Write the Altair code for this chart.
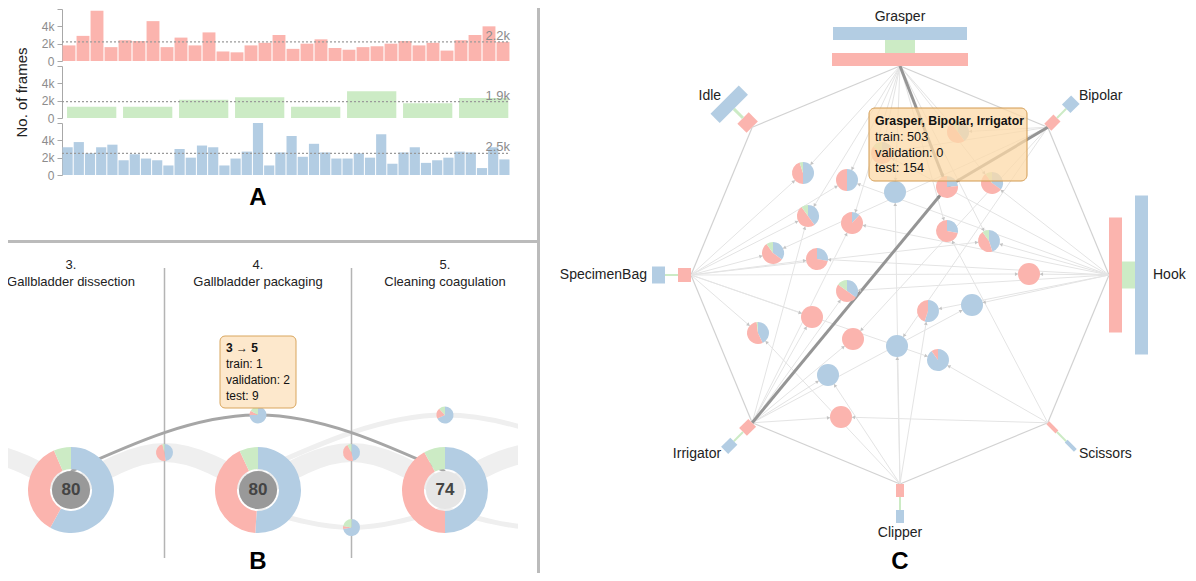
import numpy as np
import pandas as pd
import altair as alt

FONT = "Liberation Sans"
TEXT = "#222222"
RED, GREEN, BLUE = "#fbb4ae", "#ccebc5", "#b3cde3"
SPLITS = ["test", "train", "validation"]
COLOR = alt.Scale(domain=SPLITS, range=[BLUE, RED, GREEN])
OFF = 8  # page margin: chart pixel = screen pixel - OFF


def rng(a, b):
    return [a - OFF, b - OFF]


def lin(domain, a, b):
    return alt.Scale(domain=domain, range=rng(a, b), nice=False, zero=False)


# ---------------- Panel A data: frames per video ----------------
train_frames = [1800, 2900, 5800, 1600, 2400, 2300, 4600, 1600, 2700, 1800, 3300, 1100,
                1000, 1800, 2100, 3000, 1400, 2000, 2500, 1500, 1300, 1600, 1700, 2000,
                2300, 1800, 2100, 1200, 2400, 3000, 4000, 2200]
validation_frames = [1300, 1300, 2100, 2400, 1300, 3100, 1700, 2300]
test_frames = [3200, 3800, 2500, 3200, 3500, 1700, 2400, 1900, 1700, 1100, 3000, 2000,
               3400, 3200, 1100, 1900, 2700, 6000, 1100, 2600, 4500, 2100, 3600, 2600,
               1900, 1900, 2500, 2000, 4700, 1300, 2600, 3200, 1400, 1700, 2000, 2700,
               2600, 800, 3200, 1800]
mean_frames = [2200, 1900, 2500]
mean_labels = ["2.2k", "1.9k", "2.5k"]

# ---------------- Panel B data: phases and transitions ----------------
phase_ids = [3, 4, 5]
phase_names = ["Gallbladder dissection", "Gallbladder packaging", "Cleaning coagulation"]
phase_videos = [80, 80, 74]
phase_train = [35.5, 42, 42]
phase_validation = [6.5, 7, 8]
phase_test = [58, 51, 50]

trans_from = [3, 4, 3, 4, 5]
trans_to = [4, 5, 5, 6, 4]
trans_train = [48, 45, 1, 20, 6]
trans_validation = [4, 8, 2, 12, 22]
trans_test = [48, 47, 9, 68, 72]
B_HIGHLIGHT = 2

link_from = [2, 3, 4, 5, 4, 5, 6, 3]
link_to = [3, 4, 5, 6, 6, 4, 5, 5]

# ---------------- Panel C data: tools and tool combinations ----------------
tool_names = ["Grasper", "Bipolar", "Hook", "Scissors", "Clipper", "Irrigator", "SpecimenBag", "Idle"]
tool_train = [136, 10, 115, 4, 8, 11, 14, 16]
tool_validation = [30, 2, 27, 2, 2, 2, 2, 3]
tool_test = [134, 12, 159, 4, 8, 10, 17, 40]

node_x = [58, -18, -97, -53, -5, 47, 92, -92, -48, 47, 89, -127, -83, -53, -88, -142,
          -47, -3, -72, 28, 72, 129, 38, -59]
node_y = [143, 122, 102, 95, 83, 88, 92, 59, 52, 44, 34, 22, 16, -16, -42, -58, -64,
          -71, -100, -36, -30, 1, -85, -142]
node_tools = ["Grasper,Bipolar", "Grasper,Bipolar,Hook", "Grasper,SpecimenBag",
              "Grasper,SpecimenBag,Hook", "Grasper,Clipper", "Grasper,Bipolar,Irrigator",
              "Grasper,Hook", "Grasper,SpecimenBag,Irrigator", "Grasper,Irrigator,Hook",
              "Grasper,Scissors", "Grasper,Hook,SpecimenBag", "SpecimenBag,Bipolar",
              "SpecimenBag,Hook", "Irrigator,Hook", "SpecimenBag,Irrigator",
              "SpecimenBag,Clipper", "Irrigator,Bipolar", "Clipper,Bipolar",
              "Irrigator,Clipper", "Hook,Clipper", "Hook,Irrigator", "Hook,SpecimenBag",
              "Scissors,SpecimenBag", "Irrigator,Scissors"]
node_train = [50, 70, 45, 50, 0, 503, 55, 50, 88, 72, 45, 55, 72, 50, 100, 55, 100, 0, 0,
              45, 0, 100, 10, 100]
node_validation = [10, 15, 5, 0, 0, 0, 10, 10, 0, 0, 10, 10, 0, 15, 0, 2, 0, 0, 0, 0, 0,
                   0, 0, 0]
node_test = [40, 15, 50, 50, 100, 154, 35, 40, 12, 28, 45, 35, 28, 35, 0, 43, 0, 100, 100,
             55, 100, 0, 90, 0]
C_HIGHLIGHT = 5


def pie_rows(keys, tests, trains, vals):
    rows = []
    for i, key in enumerate(keys):
        total = tests[i] + trains[i] + vals[i]
        start = 0.0
        for split, v in zip(SPLITS, (tests[i], trains[i], vals[i])):
            if v <= 0:
                continue
            end = start + v
            row = dict(key)
            row.update(split=split, t0=2 * np.pi * start / total, t1=2 * np.pi * end / total)
            rows.append(row)
            start = end
    return pd.DataFrame(rows)


layers = []

# ================= Panel A =================
A_X = (62, 510)
A_ROWS = [(61, 9), (118, 66), (175, 123)]
row_defs = [
    (train_frames, RED, 0.04, 0.04, None),
    (validation_frames, GREEN, 0.09, 0.03, "No. of frames"),
    (test_frames, BLUE, 0.045, 0.045, None),
]
for r, (vals, col, gl, gr, title) in enumerate(row_defs):
    n = len(vals)
    xs = lin([0, n], *A_X)
    ys = lin([0, 6000], *A_ROWS[r])
    df = pd.DataFrame({"video": np.arange(n), "frames": vals})
    df["x0"] = df["video"] + gl
    df["x1"] = df["video"] + 1 - gr
    axis_kw = dict(orient="left", offset=-(A_X[0] - OFF), values=[0, 2000, 4000, 6000],
                   labelExpr="datum.value >= 6000 ? '' : (datum.value == 0 ? '0' : (datum.value / 1000) + 'k')",
                   domainColor="#a8a8a8", tickColor="#a8a8a8", labelColor="#8c8c8c",
                   labelFont=FONT, labelFontSize=12, tickSize=5, labelPadding=3, grid=False)
    if title:
        axis_kw.update(title=title, titleFont=FONT, titleFontSize=15, titleFontWeight="normal",
                       titleColor=TEXT, titlePadding=12)
    else:
        axis_kw.update(title=None)
    layers.append(alt.Chart(df).mark_rect(color=col).encode(
        x=alt.X("x0:Q", scale=xs, axis=None), x2="x1",
        y=alt.Y("frames:Q", scale=ys, axis=alt.Axis(**axis_kw)), y2=alt.datum(0)))
    mdf = pd.DataFrame({"mean": [mean_frames[r]], "label": [mean_labels[r]], "s": [0], "e": [n]})
    layers.append(alt.Chart(mdf).mark_rule(color="#9a9a9a", strokeDash=[2, 2], strokeWidth=1.3).encode(
        x=alt.X("s:Q", scale=xs, axis=None), x2="e", y=alt.Y("mean:Q", scale=ys, axis=None)))
    layers.append(alt.Chart(mdf).mark_text(align="right", baseline="bottom", dy=1, font=FONT,
                                           fontSize=13, color="#8c8c8c").encode(
        x=alt.X("e:Q", scale=xs, axis=None), y=alt.Y("mean:Q", scale=ys, axis=None), text="label:N"))

# ================= Panel B =================
BX = lin([3, 5], 71, 445)
BY = lin([0, 2], 490, 415)


def bx(f="phase"):
    return alt.X(f"{f}:Q", scale=BX, axis=None)


def by(f="lane"):
    return alt.Y(f"{f}:Q", scale=BY, axis=None)


def link_shape(a, b):
    span = b - a
    if span == 1:
        return 0.0, 1.0, "band"
    if span == 2:
        return 0.5, 2.0, "arc"
    return -0.5, -1.0, "arc"


link_rows = []
for i, (a, b) in enumerate(zip(link_from, link_to)):
    end_lane, peak, kind = link_shape(a, b)
    if (a, b) == (trans_from[B_HIGHLIGHT], trans_to[B_HIGHLIGHT]):
        kind = "highlight"
    for k, (ph, ln) in enumerate(((a, end_lane), ((a + b) / 2, peak), (b, end_lane))):
        link_rows.append(dict(link=i, k=k, phase=ph, lane=ln, kind=kind))
links = pd.DataFrame(link_rows)

band = alt.Chart(links).transform_filter(alt.datum.kind == "band").mark_line(
    color="#efefef", strokeWidth=19, interpolate="natural", strokeCap="butt").encode(
    x=bx(), y=by(), detail="link:N", order="k:Q")
thin = alt.Chart(links).transform_filter(alt.datum.kind == "arc").mark_line(
    color="#efefef", strokeWidth=5, interpolate="natural").encode(
    x=bx(), y=by(), detail="link:N", order="k:Q")
layers += [band, thin]

# white clip of links leaving panel B
layers.append(alt.Chart(pd.DataFrame({"a": [0]})).mark_rect(color="white").encode(
    x=alt.value(518 - OFF), x2=alt.value(650 - OFF), y=alt.value(390 - OFF), y2=alt.value(578 - OFF)))

# phase separators
sep = pd.DataFrame({"phase": [3.5, 4.5], "top": [(490 - 268) / 37.5] * 2, "bot": [(490 - 558) / 37.5] * 2})
layers.append(alt.Chart(sep).mark_rule(color="#b4b4b4", strokeWidth=1.5).encode(
    x=bx(), y=by("top"), y2="bot"))

hl = alt.Chart(links).transform_filter(alt.datum.kind == "highlight").mark_line(
    color="#a6a6a6", strokeWidth=3, interpolate="natural").encode(
    x=bx(), y=by(), detail="link:N", order="k:Q")
layers.append(hl)

# donuts
donut = pie_rows([dict(phase=p, lane=0) for p in phase_ids], phase_test, phase_train, phase_validation)
layers.append(alt.Chart(donut).mark_arc(radius=43, radius2=21).encode(
    x=bx(), y=by(), theta=alt.Theta("t0:Q", scale=None, stack=None), theta2="t1",
    color=alt.Color("split:N", scale=COLOR, legend=None)))
centers = pd.DataFrame({"phase": phase_ids, "lane": [0] * 3, "videos": phase_videos})
layers.append(alt.Chart(centers).mark_circle(size=1452, opacity=1).encode(
    x=bx(), y=by(),
    color=alt.condition(alt.datum.videos >= 80, alt.value("#999999"), alt.value("#e6e6e6"))))
layers.append(alt.Chart(centers).mark_text(font=FONT, fontSize=17, fontWeight="bold", color="#444444").encode(
    x=bx(), y=by(), text="videos:N"))

# transition pies
tpos = []
for a, b in zip(trans_from, trans_to):
    _, peak, _ = link_shape(a, b)
    tpos.append(dict(phase=(a + b) / 2, lane=peak))
tpie = pie_rows(tpos, trans_test, trans_train, trans_validation)
layers.append(alt.Chart(tpie).mark_arc(radius=8.5).encode(
    x=bx(), y=by(), theta=alt.Theta("t0:Q", scale=None, stack=None), theta2="t1",
    color=alt.Color("split:N", scale=COLOR, legend=None)))

# phase titles
titles = pd.DataFrame({"phase": phase_ids,
                       "lane": [(490 - 259) / 37.5] * 3,
                       "label": [f"{p}.\n{n}" for p, n in zip(phase_ids, phase_names)]})
layers.append(alt.Chart(titles).mark_text(font=FONT, fontSize=13, color=TEXT, lineBreak="\n",
                                          lineHeight=17, baseline="top").encode(
    x=bx(), y=by(), text="label:N"))

# tooltip B
tb = tpos[B_HIGHLIGHT]
tdf = pd.DataFrame({"phase": [tb["phase"]], "lane": [tb["lane"]],
                    "head": [f"{trans_from[B_HIGHLIGHT]} \u2192 {trans_to[B_HIGHLIGHT]}"],
                    "body": [f"train: {trans_train[B_HIGHLIGHT]}\nvalidation: {trans_validation[B_HIGHLIGHT]}\ntest: {trans_test[B_HIGHLIGHT]}"]})
layers.append(alt.Chart(tdf).mark_rect(fill="#fde8cc", stroke="#d9a65e", strokeWidth=1, cornerRadius=5,
                                       xOffset=-38, x2Offset=38, yOffset=-79, y2Offset=-7).encode(
    x=bx(), x2="phase", y=by(), y2="lane"))
layers.append(alt.Chart(tdf).mark_text(font=FONT, fontSize=12, fontWeight="bold", color="#111111",
                                       align="left", baseline="middle", dx=-32, dy=-67).encode(
    x=bx(), y=by(), text="head:N"))
layers.append(alt.Chart(tdf).mark_text(font=FONT, fontSize=12, color="#111111", align="left",
                                       baseline="middle", dx=-32, dy=-51, lineBreak="\n",
                                       lineHeight=16).encode(
    x=bx(), y=by(), text="body:N"))

# ================= Panel C =================
CX = lin([-212, 212], 688, 1112)
CY = lin([-212, 212], 487, 63)


def cx(f):
    return alt.X(f"{f}:Q", scale=CX, axis=None)


def cy(f):
    return alt.Y(f"{f}:Q", scale=CY, axis=None)


R_ANCHOR = 209
PIE_R = 11
RING_MID = {"train": 215.5, "validation": 228.5, "test": 241.5}
unit = {}
for k, name in enumerate(tool_names):
    a = np.deg2rad(45 * k)
    unit[name] = (np.sin(a), np.cos(a))
anchor = {n: (u[0] * R_ANCHOR, u[1] * R_ANCHOR) for n, u in unit.items()}

# outer polygon
poly = []
for k, name in enumerate(tool_names):
    nxt = tool_names[(k + 1) % len(tool_names)]
    poly.append(dict(x1=anchor[name][0], y1=anchor[name][1], x2=anchor[nxt][0], y2=anchor[nxt][1]))
layers.append(alt.Chart(pd.DataFrame(poly)).mark_rule(color="#d2d2d2", strokeWidth=1.2).encode(
    x=cx("x1"), y=cy("y1"), x2="x2", y2="y2"))

edges = []
for i, combo in enumerate(node_tools):
    for t in combo.split(","):
        dx, dy = anchor[t][0] - node_x[i], anchor[t][1] - node_y[i]
        d = np.hypot(dx, dy)
        ux, uy = dx / d, dy / d
        edges.append(dict(x1=anchor[t][0], y1=anchor[t][1], x2=node_x[i], y2=node_y[i],
                          ax=node_x[i] + ux * (PIE_R + 2), ay=node_y[i] + uy * (PIE_R + 2),
                          ang=float(np.degrees(np.arctan2(-ux, -uy)) % 360),
                          hl=int(i == C_HIGHLIGHT)))
edges = pd.DataFrame(edges)
layers.append(alt.Chart(edges).transform_filter(alt.datum.hl == 0).mark_rule(
    color="#e4e4e4", strokeWidth=1).encode(x=cx("x1"), y=cy("y1"), x2="x2", y2="y2"))
layers.append(alt.Chart(edges).transform_filter(alt.datum.hl == 1).mark_rule(
    color="#959595", strokeWidth=3).encode(x=cx("x1"), y=cy("y1"), x2="x2", y2="y2"))

# tool bars
bars = []
for k, name in enumerate(tool_names):
    ux, uy = unit[name]
    tx, ty = uy, -ux
    for split, vals in (("train", tool_train), ("validation", tool_validation), ("test", tool_test)):
        half = vals[k] / 2
        r = RING_MID[split]
        c0, c1 = ux * r, uy * r
        bars.append(dict(tool=name, split=split, x1=c0 - tx * half, y1=c1 - ty * half,
                         x2=c0 + tx * half, y2=c1 + ty * half))
layers.append(alt.Chart(pd.DataFrame(bars)).mark_rule(strokeWidth=13, strokeCap="butt").encode(
    x=cx("x1"), y=cy("y1"), x2="x2", y2="y2", color=alt.Color("split:N", scale=COLOR, legend=None)))

# combination pies
npie = pie_rows([dict(nx=node_x[i], ny=node_y[i]) for i in range(len(node_x))],
                node_test, node_train, node_validation)
layers.append(alt.Chart(npie).mark_arc(radius=PIE_R).encode(
    x=cx("nx"), y=cy("ny"), theta=alt.Theta("t0:Q", scale=None, stack=None), theta2="t1",
    color=alt.Color("split:N", scale=COLOR, legend=None)))

# arrow heads where edges meet the pies
layers.append(alt.Chart(edges).mark_point(shape="triangle", filled=True, size=14, opacity=1).encode(
    x=cx("ax"), y=cy("ay"), angle=alt.Angle("ang:Q", scale=None),
    color=alt.condition(alt.datum.hl == 1, alt.value("#8a8a8a"), alt.value("#c4c4c4"))))

# tool labels
lab = []
for name in tool_names:
    ux, uy = unit[name]
    al = "center" if abs(ux) < 0.3 else ("left" if ux > 0 else "right")
    rr = 248 + (10 if al == "center" else 5)
    lab.append(dict(tool=name, lx=ux * rr, ly=uy * rr, al=al))
lab = pd.DataFrame(lab)
for al in ("center", "left", "right"):
    layers.append(alt.Chart(lab).transform_filter(alt.datum.al == al).mark_text(
        font=FONT, fontSize=14, color=TEXT, align=al, baseline="middle").encode(
        x=cx("lx"), y=cy("ly"), text="tool:N"))

# tooltip C
h = C_HIGHLIGHT
cdf = pd.DataFrame({"nx": [node_x[h]], "ny": [node_y[h]],
                    "head": [", ".join(node_tools[h].split(","))],
                    "body": [f"train: {node_train[h]}\nvalidation: {node_validation[h]}\ntest: {node_test[h]}"]})
layers.append(alt.Chart(cdf).mark_rect(fill="#fcd9a8", fillOpacity=0.75, stroke="#d29a50", strokeWidth=1,
                                       cornerRadius=6, xOffset=-78, x2Offset=80, yOffset=-79,
                                       y2Offset=-6).encode(
    x=cx("nx"), x2="nx", y=cy("ny"), y2="ny"))
layers.append(alt.Chart(cdf).mark_text(font=FONT, fontSize=12.3, fontWeight="bold", color="#111111",
                                       align="left", baseline="middle", dx=-72, dy=-66).encode(
    x=cx("nx"), y=cy("ny"), text="head:N"))
layers.append(alt.Chart(cdf).mark_text(font=FONT, fontSize=12.8, color="#111111", align="left",
                                       baseline="middle", dx=-72, dy=-50, lineBreak="\n",
                                       lineHeight=15.5).encode(
    x=cx("nx"), y=cy("ny"), text="body:N"))

# ================= frame and panel letters =================
one = pd.DataFrame({"a": [0]})
layers.append(alt.Chart(one).mark_rect(color="#bbbbbb").encode(
    x=alt.value(0), x2=alt.value(540 - OFF), y=alt.value(240 - OFF), y2=alt.value(243 - OFF)))
layers.append(alt.Chart(one).mark_rect(color="#bbbbbb").encode(
    x=alt.value(537 - OFF), x2=alt.value(540 - OFF), y=alt.value(0), y2=alt.value(581 - OFF)))
letters = pd.DataFrame({"t": ["A", "B", "C"], "px": [258 - OFF, 258 - OFF, 900 - OFF],
                        "py": [198 - OFF, 562 - OFF, 562 - OFF]})
for _, rw in letters.iterrows():
    layers.append(alt.Chart(one).mark_text(font=FONT, fontSize=24, fontWeight="bold", color="#000000",
                                           text=rw["t"]).encode(
        x=alt.value(rw["px"]), y=alt.value(rw["py"])))

chart = alt.layer(*layers).resolve_scale(x="independent", y="independent").properties(
    width=1180, height=565, padding=0, background="white",
    autosize=alt.AutoSizeParams(type="none")).configure_view(stroke=None)

chart.save("out.html", embed_options={"renderer": "svg", "actions": False})
